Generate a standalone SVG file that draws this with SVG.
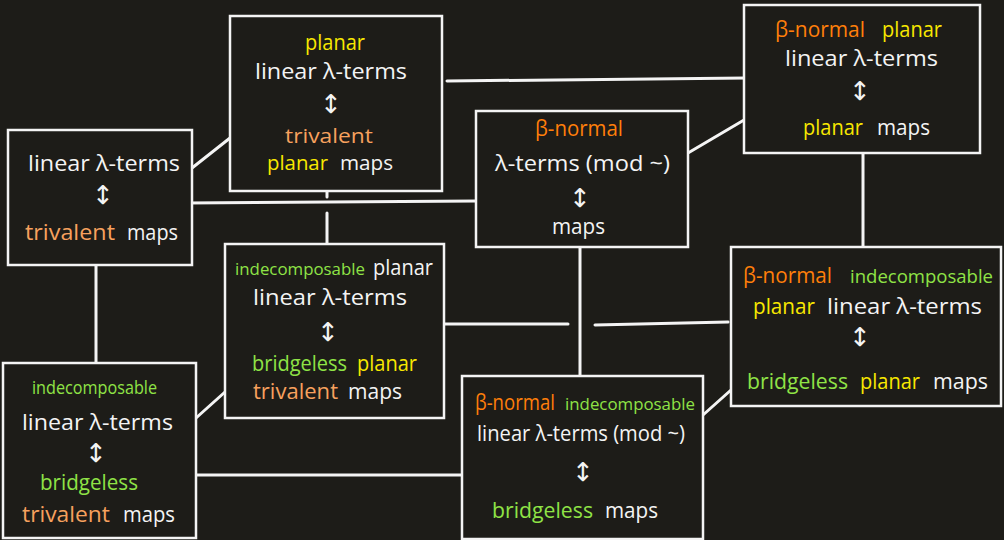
<svg xmlns="http://www.w3.org/2000/svg" width="1004" height="540" viewBox="0 0 1004 540">
<style>
.bg{fill:#1d1c18}
.box{fill:#1d1c18;stroke:#f4f4f4;stroke-width:2.5}
.c{stroke:#f4f4f4;stroke-width:3;stroke-linecap:round;fill:none}
text{font-family:"Open Sans","Liberation Sans",sans-serif;font-size:21px;fill:#f4f4f4}
.ar{font-family:"DejaVu Sans",sans-serif;font-size:26px;text-anchor:middle}
.s{font-size:19.5px}
.o{fill:#ff7f0a}
.t{fill:#f7a15e}
.y{fill:#f8e800}
.g{fill:#8fe346}
</style>
<rect class="bg" x="0" y="0" width="1004" height="540"/>
<g id="connectors">
<line class="c" x1="192" y1="168" x2="230" y2="138"/>
<line class="c" x1="187" y1="203" x2="476" y2="201"/>
<line class="c" x1="96" y1="265" x2="96" y2="363"/>
<line class="c" x1="447" y1="81" x2="746" y2="78"/>
<line class="c" x1="327" y1="190" x2="327" y2="197"/>
<line class="c" x1="327" y1="213" x2="327" y2="244"/>
<line class="c" x1="688" y1="153" x2="744" y2="120"/>
<line class="c" x1="580" y1="247" x2="580" y2="376"/>
<line class="c" x1="863" y1="153" x2="863" y2="247"/>
<line class="c" x1="443" y1="324" x2="568" y2="324"/>
<line class="c" x1="595" y1="325" x2="728" y2="322"/>
<line class="c" x1="196" y1="418" x2="225" y2="392"/>
<line class="c" x1="196" y1="475" x2="462" y2="475"/>
<line class="c" x1="703" y1="415" x2="731" y2="390"/>
</g>
<g id="nodeA">
<rect class="box" x="8" y="130" width="184" height="135"/>
<text x="28" y="171" textLength="152" lengthAdjust="spacingAndGlyphs">linear λ-terms</text>
<text class="ar" x="103" y="204">↕</text>
<text class="t" x="25" y="240" textLength="90" lengthAdjust="spacingAndGlyphs">trivalent</text>
<text x="127" y="240" textLength="51" lengthAdjust="spacingAndGlyphs">maps</text>
</g>
<g id="nodeB">
<rect class="box" x="230" y="16" width="212" height="175"/>
<text class="y" x="305" y="50" textLength="60" lengthAdjust="spacingAndGlyphs">planar</text>
<text x="255" y="79" textLength="152" lengthAdjust="spacingAndGlyphs">linear λ-terms</text>
<text class="ar" x="331" y="113">↕</text>
<text class="t s" x="285" y="143" textLength="88" lengthAdjust="spacingAndGlyphs">trivalent</text>
<text class="y s" x="267" y="170" textLength="61" lengthAdjust="spacingAndGlyphs">planar</text>
<text class="s" x="340" y="170" textLength="53" lengthAdjust="spacingAndGlyphs">maps</text>
</g>
<g id="nodeC">
<rect class="box" x="476" y="111" width="212" height="136"/>
<text class="o" x="535" y="136" textLength="88" lengthAdjust="spacingAndGlyphs">β-normal</text>
<text x="495" y="171" textLength="175" lengthAdjust="spacingAndGlyphs">λ-terms (mod ~)</text>
<text class="ar" x="580" y="207">↕</text>
<text x="552" y="234" textLength="53" lengthAdjust="spacingAndGlyphs">maps</text>
</g>
<g id="nodeD">
<rect class="box" x="744" y="5" width="236" height="148"/>
<text class="o" x="775" y="37" textLength="90" lengthAdjust="spacingAndGlyphs">β-normal</text>
<text class="y" x="882" y="37" textLength="60" lengthAdjust="spacingAndGlyphs">planar</text>
<text x="785" y="66" textLength="153" lengthAdjust="spacingAndGlyphs">linear λ-terms</text>
<text class="ar" x="860" y="100">↕</text>
<text class="y" x="803" y="135" textLength="60" lengthAdjust="spacingAndGlyphs">planar</text>
<text x="877" y="135" textLength="53" lengthAdjust="spacingAndGlyphs">maps</text>
</g>
<g id="nodeE">
<rect class="box" x="225" y="244" width="219" height="174"/>
<text class="g" x="235" y="275" style="font-size:17px" textLength="130" lengthAdjust="spacingAndGlyphs">indecomposable</text>
<text x="373" y="275" textLength="60" lengthAdjust="spacingAndGlyphs">planar</text>
<text x="253" y="305" textLength="154" lengthAdjust="spacingAndGlyphs">linear λ-terms</text>
<text class="ar" x="328" y="341">↕</text>
<text class="g" x="252" y="371" textLength="95" lengthAdjust="spacingAndGlyphs">bridgeless</text>
<text class="y" x="357" y="371" textLength="60" lengthAdjust="spacingAndGlyphs">planar</text>
<text class="t" x="253" y="399" textLength="85" lengthAdjust="spacingAndGlyphs">trivalent</text>
<text x="348" y="399" textLength="54" lengthAdjust="spacingAndGlyphs">maps</text>
</g>
<g id="nodeF">
<rect class="box" x="731" y="247" width="270" height="159"/>
<text class="o" x="743" y="283" style="font-size:22px" textLength="89" lengthAdjust="spacingAndGlyphs">β-normal</text>
<text class="g" x="850" y="283" style="font-size:18.5px" textLength="143" lengthAdjust="spacingAndGlyphs">indecomposable</text>
<text class="y" x="753" y="314" style="font-size:22px" textLength="62" lengthAdjust="spacingAndGlyphs">planar</text>
<text x="827" y="314" style="font-size:22px" textLength="155" lengthAdjust="spacingAndGlyphs">linear λ-terms</text>
<text class="ar" x="860" y="346">↕</text>
<text class="g" x="747" y="389" style="font-size:22px" textLength="101" lengthAdjust="spacingAndGlyphs">bridgeless</text>
<text class="y" x="860" y="389" style="font-size:22px" textLength="60" lengthAdjust="spacingAndGlyphs">planar</text>
<text x="933" y="389" style="font-size:22px" textLength="55" lengthAdjust="spacingAndGlyphs">maps</text>
</g>
<g id="nodeG">
<rect class="box" x="3" y="363" width="193" height="175"/>
<text class="g" x="32" y="394" style="font-size:18px" textLength="125" lengthAdjust="spacingAndGlyphs">indecomposable</text>
<text x="22" y="430" textLength="151" lengthAdjust="spacingAndGlyphs">linear λ-terms</text>
<text class="ar" x="96" y="462">↕</text>
<text class="g" x="40" y="490" textLength="98" lengthAdjust="spacingAndGlyphs">bridgeless</text>
<text class="t" x="22" y="522" textLength="88" lengthAdjust="spacingAndGlyphs">trivalent</text>
<text x="123" y="522" textLength="52" lengthAdjust="spacingAndGlyphs">maps</text>
</g>
<g id="nodeH">
<rect class="box" x="462" y="376" width="241" height="163"/>
<text class="o" x="475" y="410" textLength="80" lengthAdjust="spacingAndGlyphs">β-normal</text>
<text class="g" x="565" y="410" style="font-size:17px" textLength="130" lengthAdjust="spacingAndGlyphs">indecomposable</text>
<text x="477" y="441" textLength="208" lengthAdjust="spacingAndGlyphs">linear λ-terms (mod ~)</text>
<text class="ar" x="583" y="481">↕</text>
<text class="g" x="492" y="518" style="font-size:22px" textLength="101" lengthAdjust="spacingAndGlyphs">bridgeless</text>
<text x="605" y="518" style="font-size:22px" textLength="53" lengthAdjust="spacingAndGlyphs">maps</text>
</g>
</svg>
